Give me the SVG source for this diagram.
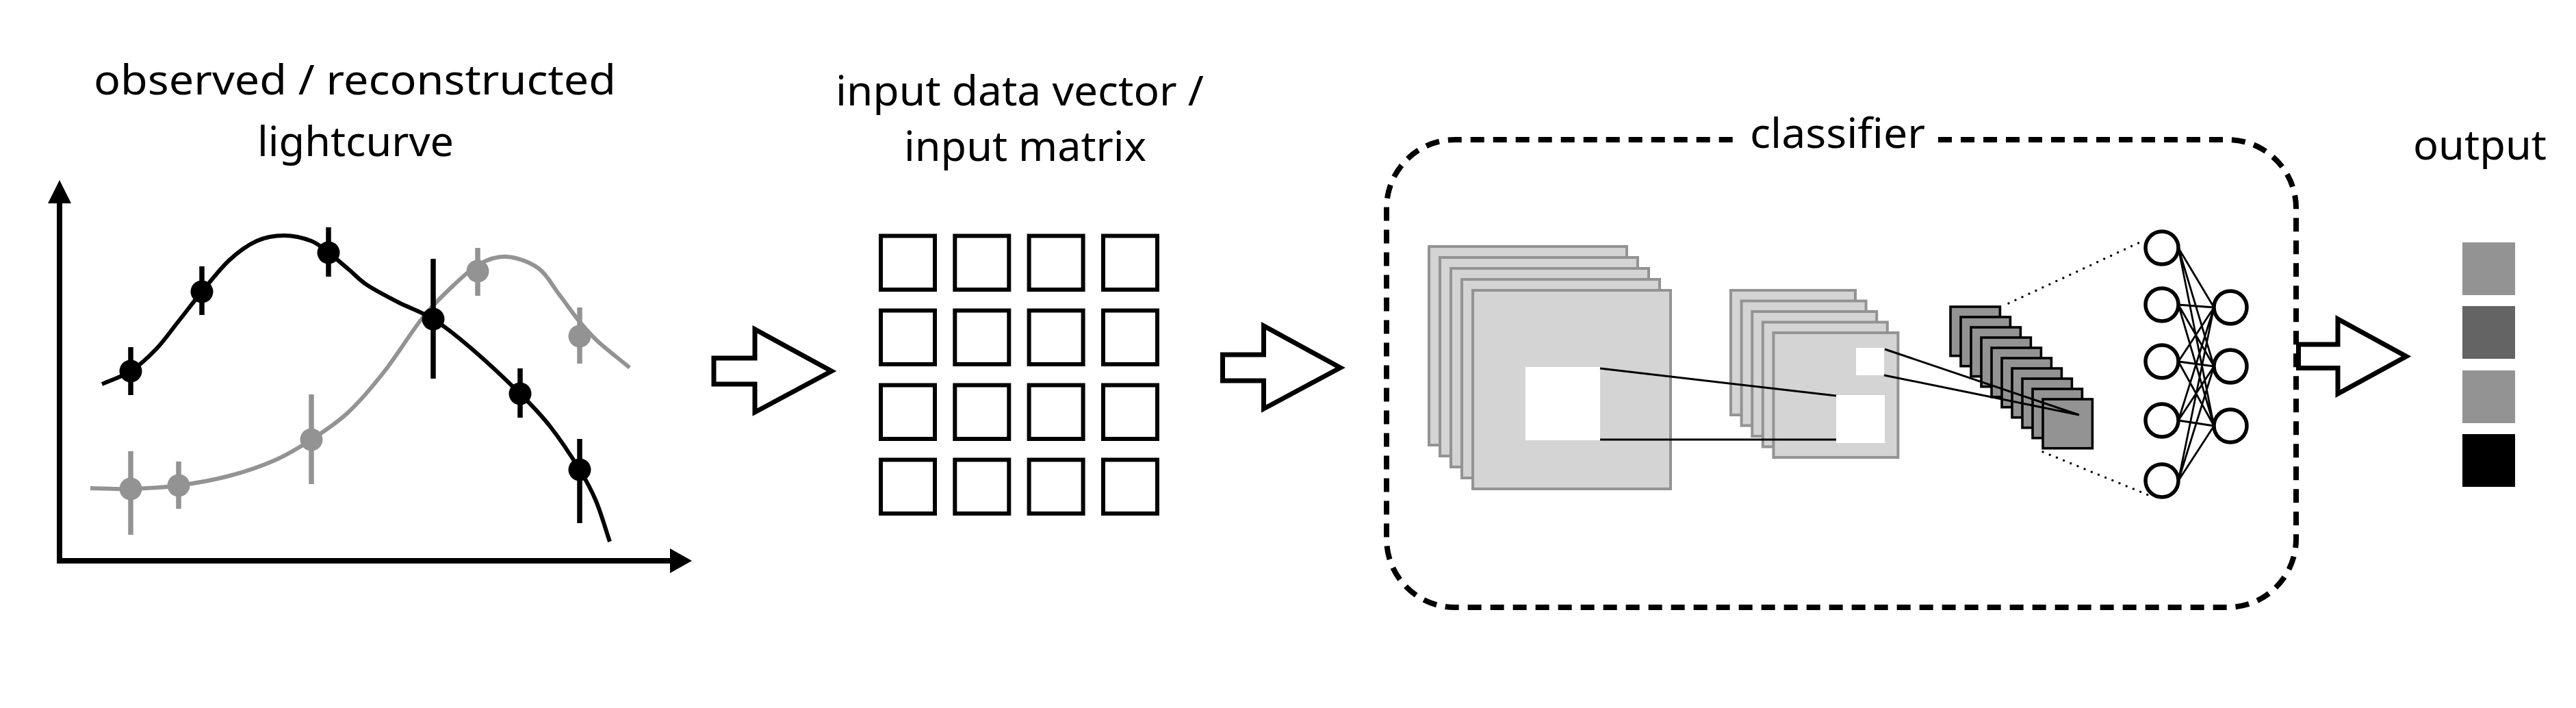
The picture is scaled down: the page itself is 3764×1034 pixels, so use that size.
<svg xmlns="http://www.w3.org/2000/svg" width="3764" height="1034" viewBox="0 0 3764 1034">
<style>
text{font-family:"Noto Sans","Liberation Sans",sans-serif;font-size:60px;fill:#000}
.axis{stroke:#000;stroke-width:8;fill:none}
.head{fill:#000;stroke:none}
.curveB{stroke:#000;stroke-width:6;fill:none}
.curveG{stroke:#939393;stroke-width:6;fill:none}
.barB{stroke:#000;stroke-width:7.5}
.barG{stroke:#939393;stroke-width:7.5}
.dotB{fill:#000}
.dotG{fill:#939393}
.cell{fill:#fff;stroke:#000;stroke-width:6}
.blk{fill:#fff;stroke:#000;stroke-width:7;stroke-linejoin:miter;stroke-miterlimit:10}
.fm1{fill:#d4d4d4;stroke:#939393;stroke-width:4}
.fm3{fill:#939393;stroke:#000;stroke-width:3.6}
.hole{fill:#fff;stroke:none}
.link{stroke:#000;stroke-width:3;fill:none}
.dots{stroke:#000;stroke-width:3.5;stroke-linecap:round;stroke-dasharray:0 11;fill:none}
.neuron{fill:#fff;stroke:#000;stroke-width:5.5}
.syn{stroke:#000;stroke-width:2.8;fill:none}
.border{fill:none;stroke:#000;stroke-width:8;stroke-dasharray:20 13}
</style>
<rect width="3764" height="1034" fill="#fff"/>

<g id="lightcurve">
  <text x="137" y="138" textLength="763" lengthAdjust="spacingAndGlyphs">observed / reconstructed</text>
  <text x="376" y="228" textLength="287" lengthAdjust="spacingAndGlyphs">lightcurve</text>
  <path class="axis" d="M87,823 V290 M83,819 H984"/>
  <polygon class="head" points="87,263 70,297 104,297"/>
  <polygon class="head" points="1011,819 979,801 979,837"/>
  <path class="curveG" d="M132,713 C151.7,713.3 169.5,714.7 191,714 C212.5,713.3 237,712.2 261,709 C285,705.8 311.5,701.2 335,695 C358.5,688.8 382,680.8 402,672 C422,663.2 437.2,653.7 455,642 C472.8,630.3 491.2,618.7 509,602 C526.8,585.3 544.2,564.7 562,542 C579.8,519.3 600.3,485.8 616,466 C631.7,446.2 642,436.3 656,423 C670,409.7 685.8,394 700,386 C714.2,378 726.5,374 741,375 C755.5,376 774.3,382.8 787,392 C799.7,401.2 807,417 817,430 C827,443 837.5,458.5 847,470 C856.5,481.5 861.8,487.8 874,499 C886.2,510.2 904.7,524.3 920,537"/>
  <path class="barG" d="M191,659 V781 M261,674 V743 M455,576 V707 M698,362 V432 M847,449 V531"/>
  <circle class="dotG" cx="191" cy="714" r="16.5"/>
  <circle class="dotG" cx="261" cy="709" r="16.5"/>
  <circle class="dotG" cx="455" cy="642" r="16.5"/>
  <circle class="dotG" cx="698" cy="396" r="16.5"/>
  <circle class="dotG" cx="847" cy="491" r="16.5"/>
  <path class="curveB" d="M149,561 C163,554.7 177.8,550.5 191,542 C204.2,533.5 216.3,522.2 228,510 C239.7,497.8 249.8,483 261,469 C272.2,455 282.7,440.8 295,426 C307.3,411.2 321.7,392.3 335,380 C348.3,367.7 361.7,358 375,352 C388.3,346 401.7,344 415,344 C428.3,344 444.2,347.8 455,352 C465.8,356.2 471,362.2 480,369 C489,375.8 499.7,385.2 509,393 C518.3,400.8 523.7,407.8 536,416 C548.3,424.2 566.8,433.7 583,442 C599.2,450.3 615.2,454.7 633,466 C650.8,477.3 668.8,491.8 690,510 C711.2,528.2 741,556.2 760,575 C779,593.8 789.5,604.5 804,623 C818.5,641.5 835.8,667.8 847,686 C858.2,704.2 863.7,714.5 871,732 C878.3,749.5 884.3,771.3 891,791"/>
  <path class="barB" d="M191,507 V577 M295,389 V460 M480,332 V404 M633,378 V553 M760,538 V610 M847,641 V764"/>
  <circle class="dotB" cx="191" cy="542" r="16.5"/>
  <circle class="dotB" cx="295" cy="426" r="16.5"/>
  <circle class="dotB" cx="480" cy="369" r="16.5"/>
  <circle class="dotB" cx="633" cy="466" r="16.5"/>
  <circle class="dotB" cx="760" cy="575" r="16.5"/>
  <circle class="dotB" cx="847" cy="686" r="16.5"/>
</g>

<g id="input-matrix">
  <text x="1221" y="154" textLength="538" lengthAdjust="spacingAndGlyphs">input data vector /</text>
  <text x="1321" y="235" textLength="354" lengthAdjust="spacingAndGlyphs">input matrix</text>
  <rect class="cell" x="1287" y="344.5" width="79" height="78.5"/>
  <rect class="cell" x="1395.3" y="344.5" width="79" height="78.5"/>
  <rect class="cell" x="1503.6" y="344.5" width="79" height="78.5"/>
  <rect class="cell" x="1612" y="344.5" width="79" height="78.5"/>
  <rect class="cell" x="1287" y="453.5" width="79" height="78.5"/>
  <rect class="cell" x="1395.3" y="453.5" width="79" height="78.5"/>
  <rect class="cell" x="1503.6" y="453.5" width="79" height="78.5"/>
  <rect class="cell" x="1612" y="453.5" width="79" height="78.5"/>
  <rect class="cell" x="1287" y="562.5" width="79" height="78.5"/>
  <rect class="cell" x="1395.3" y="562.5" width="79" height="78.5"/>
  <rect class="cell" x="1503.6" y="562.5" width="79" height="78.5"/>
  <rect class="cell" x="1612" y="562.5" width="79" height="78.5"/>
  <rect class="cell" x="1287" y="671.5" width="79" height="78.5"/>
  <rect class="cell" x="1395.3" y="671.5" width="79" height="78.5"/>
  <rect class="cell" x="1503.6" y="671.5" width="79" height="78.5"/>
  <rect class="cell" x="1612" y="671.5" width="79" height="78.5"/>
</g>

<g id="classifier">
  <path class="border" d="M2832,204 H3255 A100,100 0 0 1 3355,304 V787 A100,100 0 0 1 3255,887 H2126 A100,100 0 0 1 2026,787 V304 A100,100 0 0 1 2126,204 H2532"/>
  <text x="2557" y="216" textLength="256" lengthAdjust="spacingAndGlyphs">classifier</text>
  <g id="conv-layer-1">
    <rect class="fm1" x="2088" y="360" width="289" height="290"/>
    <rect class="fm1" x="2104" y="376" width="289" height="290"/>
    <rect class="fm1" x="2120" y="392" width="289" height="290"/>
    <rect class="fm1" x="2136" y="408" width="289" height="290"/>
    <rect class="fm1" x="2152" y="424" width="289" height="290"/>
    <rect class="hole" x="2229" y="536" width="109" height="107"/>
  </g>
  <g id="conv-layer-2">
    <rect class="fm1" x="2529" y="424" width="182" height="182"/>
    <rect class="fm1" x="2544.6" y="439.5" width="182" height="182"/>
    <rect class="fm1" x="2560.2" y="455" width="182" height="182"/>
    <rect class="fm1" x="2575.8" y="470.5" width="182" height="182"/>
    <rect class="fm1" x="2591.4" y="486" width="182" height="182"/>
    <rect class="hole" x="2712" y="508" width="41" height="40"/>
    <rect class="hole" x="2683" y="577" width="71" height="70"/>
  </g>
  <g id="conv-layer-3">
    <rect class="fm3" x="2850" y="448" width="72.4" height="71.7"/>
    <rect class="fm3" x="2865" y="463" width="72.4" height="71.7"/>
    <rect class="fm3" x="2880" y="478" width="72.4" height="71.7"/>
    <rect class="fm3" x="2895" y="493" width="72.4" height="71.7"/>
    <rect class="fm3" x="2910" y="508" width="72.4" height="71.7"/>
    <rect class="fm3" x="2925" y="523" width="72.4" height="71.7"/>
    <rect class="fm3" x="2940" y="538" width="72.4" height="71.7"/>
    <rect class="fm3" x="2955" y="553" width="72.4" height="71.7"/>
    <rect class="fm3" x="2970" y="568" width="72.4" height="71.7"/>
    <rect class="fm3" x="2985" y="583" width="72.4" height="71.7"/>
  </g>
  <g id="dense-layer">
    <circle class="neuron" cx="3159" cy="362" r="24"/>
    <circle class="neuron" cx="3159" cy="445" r="24"/>
    <circle class="neuron" cx="3159" cy="528" r="24"/>
    <circle class="neuron" cx="3159" cy="614" r="24"/>
    <circle class="neuron" cx="3159" cy="702" r="24"/>
  </g>
  <g id="output-layer">
    <circle class="neuron" cx="3259" cy="449" r="24"/>
    <circle class="neuron" cx="3259" cy="535" r="24"/>
    <circle class="neuron" cx="3259" cy="622" r="24"/>
  </g>
</g>

<g id="output">
  <text x="3526" y="233" textLength="195" lengthAdjust="spacingAndGlyphs">output</text>
  <rect x="3598" y="354" width="77" height="77" fill="#939393"/>
  <rect x="3598" y="447" width="77" height="77" fill="#646464"/>
  <rect x="3598" y="541" width="77" height="77" fill="#939393"/>
  <rect x="3598" y="634" width="77" height="77" fill="#000"/>
</g>

<g id="connectors">
  <polygon class="blk" points="1043,523 1103,523 1103,481 1215,542 1103,602 1103,561 1043,561"/>
  <polygon class="blk" points="1786.5,518 1846.5,518 1846.5,476 1958.5,537 1846.5,597 1846.5,556 1786.5,556"/>
  <polygon class="blk" points="3358.5,503 3416,503 3416,466 3516,520.5 3416,575 3416,537.5 3358.5,537.5"/>
  <path class="link" d="M2338,538 L2683,578 M2338,642 L2683,642 M2754,510 L3038,606 M2753,548 L3038,606"/>
  <path class="dots" d="M2935,443 L3133,351 M2985,660 L3144,725"/>
  <path class="syn" d="M3183,362 L3235,449 M3183,362 L3235,535 M3183,362 L3235,622 M3183,445 L3235,449 M3183,445 L3235,535 M3183,445 L3235,622 M3183,528 L3235,449 M3183,528 L3235,535 M3183,528 L3235,622 M3183,614 L3235,449 M3183,614 L3235,535 M3183,614 L3235,622 M3183,702 L3235,449 M3183,702 L3235,535 M3183,702 L3235,622"/>
</g>
</svg>
